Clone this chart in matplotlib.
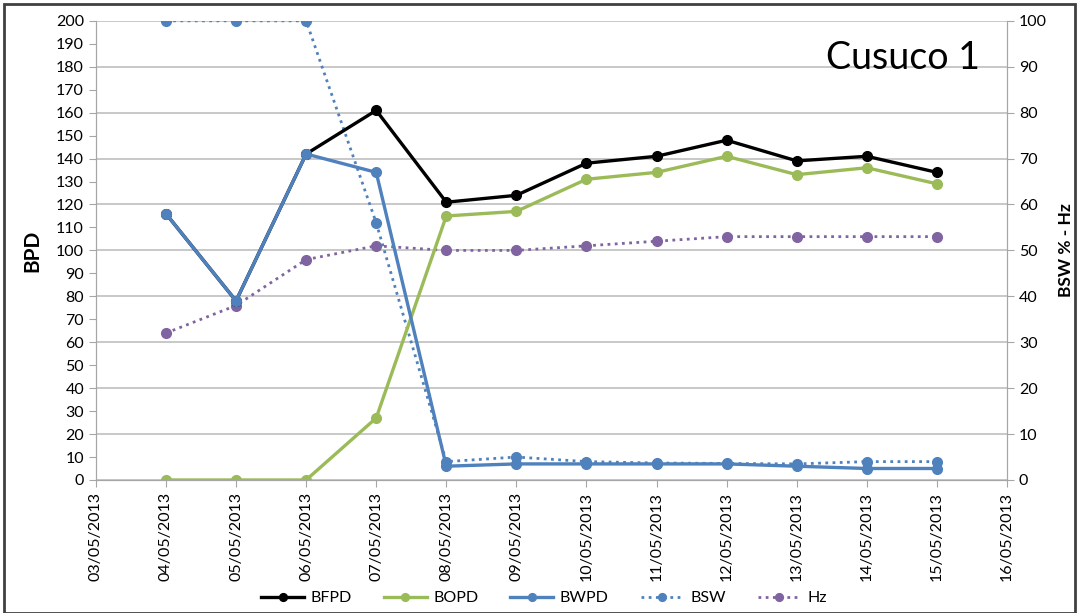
import matplotlib.pyplot as plt
import matplotlib.dates as mdates
import pandas as pd
from matplotlib.patches import Rectangle

plt.rcParams['font.family'] = ['Lato', 'DejaVu Sans']

dates = pd.to_datetime(['04/05/2013', '05/05/2013', '06/05/2013', '07/05/2013',
                        '08/05/2013', '09/05/2013', '10/05/2013', '11/05/2013',
                        '12/05/2013', '13/05/2013', '14/05/2013', '15/05/2013'],
                       format='%d/%m/%Y')
bfpd = [116, 78, 142, 161, 121, 124, 138, 141, 148, 139, 141, 134]
bopd = [0, 0, 0, 27, 115, 117, 131, 134, 141, 133, 136, 129]
bwpd = [116, 78, 142, 134, 6, 7, 7, 7, 7, 6, 5, 5]
bsw = [100, 100, 100, 56, 4, 5, 4, 3.7, 3.6, 3.5, 4, 4]
hz = [32, 38, 48, 51, 50, 50, 51, 52, 53, 53, 53, 53]

blue = '#4F81BD'
green = '#9BBB59'
purple = '#8064A2'
grey = '#A6A6A6'

fig = plt.figure(figsize=(10.77, 6.13), dpi=100)
ax = fig.add_axes([0.089, 0.217, 0.846, 0.749])
ax2 = ax.twinx()

ax.set_zorder(2)
ax.patch.set_visible(False)
ax2.set_zorder(1)

lw = 2.4
ms = 7
l1, = ax.plot(dates, bfpd, color='black', lw=lw, marker='o', ms=ms, label='BFPD')
l2, = ax.plot(dates, bopd, color=green, lw=lw, marker='o', ms=ms, label='BOPD')
l3, = ax.plot(dates, bwpd, color=blue, lw=lw, marker='o', ms=ms, label='BWPD')
l4, = ax2.plot(dates, bsw, color=blue, lw=2, ls=(0, (1, 1.6)), marker='o', ms=ms, label='BSW')
l5, = ax2.plot(dates, hz, color=purple, lw=2, ls=(0, (1, 1.6)), marker='o', ms=ms, label='Hz')

xmin = pd.Timestamp('2013-05-03')
xmax = pd.Timestamp('2013-05-16')
ax.set_xlim(xmin, xmax)
ax.set_ylim(0, 200)
ax2.set_ylim(0, 100)
ax.set_yticks(range(0, 201, 10))
ax2.set_yticks(range(0, 101, 10))
ax.xaxis.set_major_locator(mdates.DayLocator())
ax.xaxis.set_major_formatter(mdates.DateFormatter('%d/%m/%Y'))
for lab in ax.get_xticklabels():
    lab.set_rotation(90)

ax2.yaxis.grid(True, color='#BFBFBF', lw=1.2)
ax2.set_axisbelow(True)
ax.tick_params(axis='both', labelsize=11.5, color=grey, length=5)
ax2.tick_params(axis='y', labelsize=11.5, color=grey, length=5)

for a in (ax, ax2):
    for side in ('left', 'right', 'bottom'):
        a.spines[side].set_color(grey)
    a.spines['top'].set_visible(False)

ax.set_ylabel('BPD', fontsize=15, fontweight='bold', labelpad=10)
ax2.set_ylabel('BSW % - Hz', fontsize=12.5, fontweight='bold', labelpad=8)

ax.text(0.97, 0.92, 'Cusuco 1', transform=ax.transAxes, ha='right', va='center',
        fontsize=27)

fig.legend(handles=[l1, l2, l3, l4, l5], loc='center', bbox_to_anchor=(0.505, 0.024),
           ncol=5, frameon=False, fontsize=11.5, handlelength=2.7, columnspacing=2.0,
           handletextpad=0.4, markerscale=0.8)

fig.patches.append(Rectangle((0.004, 0.0), 0.994, 0.994, transform=fig.transFigure,
                             fill=False, edgecolor='#404040', lw=2))

fig.savefig('out.png', dpi=100)
